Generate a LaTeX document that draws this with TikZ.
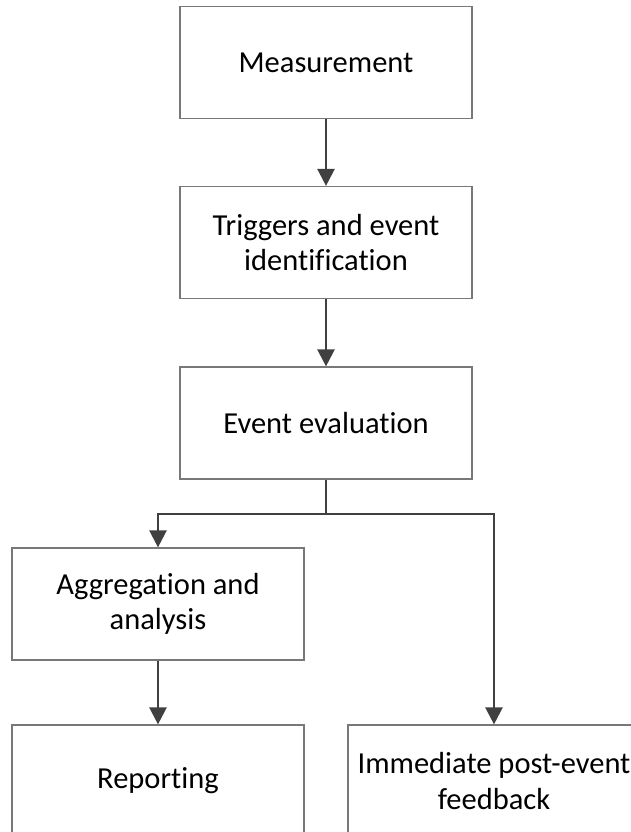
\documentclass[tikz,border=0pt]{standalone}
\usepackage{fontspec}
\setmainfont[Ligatures=NoCommon]{Carlito}
\usetikzlibrary{arrows.meta}
\definecolor{boxline}{RGB}{120,120,120}
\definecolor{connline}{RGB}{64,64,64}
\tikzset{
  stepbox/.style={draw=boxline, line width=1.2pt, rectangle, minimum width=292pt, minimum height=112pt,
    inner sep=0pt, align=center, font=\fontsize{30.5}{35.5}\selectfont, text=black},
  conn/.style={draw=connline, line width=2.4pt, -{Triangle[width=17pt,length=17pt]}},
  plainconn/.style={draw=connline, line width=2.4pt}
}
\begin{document}
\begin{tikzpicture}[x=1pt,y=-1pt]
\useasboundingbox (0,0) rectangle (631,832);
\node[stepbox] (meas) at (326,62.5) {Measurement};
\node[stepbox] (trig) at (326,242.5) {Triggers and event\\identification};
\node[stepbox] (eval) at (326,423) {Event evaluation};
\node[stepbox] (agg) at (158,604) {Aggregation and\\analysis};
\node[stepbox] (rep) at (158,781) {Reporting};
\node[stepbox] (imm) at (494,781) {Immediate post-event\\feedback};
\coordinate (split) at (326,514);
\draw[conn] (meas) -- (trig);
\draw[conn] (trig) -- (eval);
\draw[plainconn] (eval) -- (split);
\draw[conn] (split) -| (agg);
\draw[conn] (split) -| (imm);
\draw[conn] (agg) -- (rep);
\end{tikzpicture}
\end{document}
